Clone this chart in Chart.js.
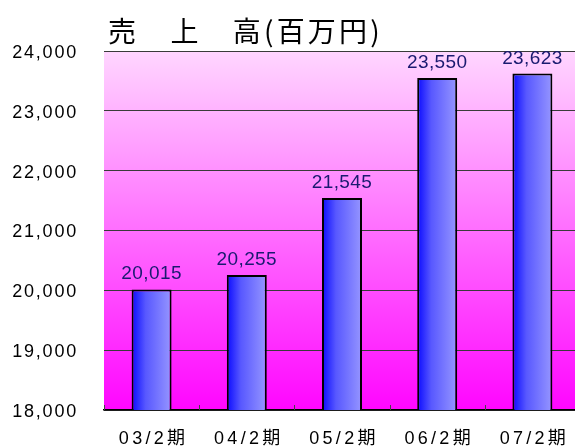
<!DOCTYPE html>
<html>
<head>
<meta charset="utf-8">
<script src="https://cdn.jsdelivr.net/npm/chart.js@4"></script>
<style>
  body { margin: 0; background: #fff; }
  #wrap { width: 575px; height: 448px; overflow: hidden; }
</style>
</head>
<body>
<div id="wrap"><canvas id="salesChart" width="582" height="448"></canvas></div>
<script>
const title = '売　上　高(百万円)';
const periods = ['03/2期', '04/2期', '05/2期', '06/2期', '07/2期'];
const sales = [20015, 20255, 21545, 23550, 23623];
const yMin = 18000;
const yMax = 24000;
const yStep = 1000;

const barPct = 0.42;
const latin = '"Liberation Sans", Arial, "Noto Sans CJK JP", sans-serif';

function fmt(v) {
    return v.toLocaleString('en-US');
}

// pink-to-magenta plot background
const plotBackground = {
    id: 'plotBackground',
    beforeDraw(chart) {
        const { ctx, chartArea: a } = chart;
        const g = ctx.createLinearGradient(0, a.top, 0, a.bottom);
        g.addColorStop(0, 'rgb(255, 214, 255)');
        g.addColorStop(1, 'rgb(255, 6, 255)');
        ctx.save();
        ctx.fillStyle = g;
        ctx.fillRect(a.left, a.top, a.right - a.left, a.bottom - a.top);
        ctx.restore();
    }
};

// labels, ticks and title drawn by hand so letter spacing can be set
const textLayer = {
    id: 'textLayer',
    afterDatasetsDraw(chart) {
        const { ctx } = chart;
        const meta = chart.getDatasetMeta(0);
        ctx.save();
        ctx.font = '19px ' + latin;
        ctx.fillStyle = '#1a1a70';
        ctx.textAlign = 'center';
        ctx.textBaseline = 'alphabetic';
        ctx.letterSpacing = '0.4px';
        meta.data.forEach((bar, i) => {
            ctx.fillText(fmt(sales[i]), bar.x, bar.y - 10);
        });
        ctx.restore();
    },
    afterDraw(chart) {
        const { ctx, chartArea: a } = chart;
        const xs = chart.scales.x;
        const ys = chart.scales.y;
        ctx.save();

        // small inward ticks on the category axis
        ctx.strokeStyle = '#444';
        ctx.lineWidth = 1;
        for (let i = 0; i <= periods.length; i++) {
            const x = Math.round(xs.getPixelForValue(i - 0.5)) + 0.5;
            ctx.beginPath();
            ctx.moveTo(x, a.bottom);
            ctx.lineTo(x, a.bottom - 5);
            ctx.stroke();
        }

        ctx.fillStyle = '#000';
        ctx.font = '18px ' + latin;
        ctx.letterSpacing = '1.8px';
        ctx.textAlign = 'right';
        ctx.textBaseline = 'middle';
        ys.ticks.forEach(t => {
            ctx.fillText(fmt(t.value), 78, ys.getPixelForValue(t.value) + 2);
        });

        ctx.letterSpacing = '3.3px';
        ctx.textAlign = 'center';
        periods.forEach((p, i) => {
            ctx.fillText(p, xs.getPixelForValue(i) + 2, 439);
        });

        ctx.font = '28px "Noto Sans CJK JP", sans-serif';
        ctx.letterSpacing = '3.2px';
        ctx.textAlign = 'left';
        ctx.textBaseline = 'alphabetic';
        ctx.fillText(title, 108, 42);
        ctx.restore();
    }
};

new Chart(document.getElementById('salesChart'), {
    type: 'bar',
    data: {
        labels: periods,
        datasets: [{
            data: sales,
            backgroundColor(c) {
                const xs = c.chart.scales.x;
                if (!xs || c.type !== 'data') return '#4a4aff';
                const cx = xs.getPixelForValue(c.dataIndex);
                const half = xs.width / periods.length * barPct / 2;
                if (!isFinite(cx) || !isFinite(half)) return '#4a4aff';
                const g = c.chart.ctx.createLinearGradient(cx - half, 0, cx + half, 0);
                g.addColorStop(0, '#0a0aff');
                g.addColorStop(0.35, '#5858ff');
                g.addColorStop(1, '#9696ff');
                return g;
            },
            borderColor: '#000',
            borderWidth: 2,
            barPercentage: barPct,
            categoryPercentage: 1
        }]
    },
    options: {
        responsive: false,
        animation: false,
        layout: { padding: { top: 51, right: 2, left: 0, bottom: 0 } },
        plugins: {
            legend: { display: false },
            tooltip: { enabled: false }
        },
        scales: {
            x: {
                ticks: { display: false },
                grid: { display: false },
                border: { color: '#000', width: 1.5 },
                afterFit(s) { s.height = 38; }
            },
            y: {
                min: yMin,
                max: yMax,
                ticks: { display: false, stepSize: yStep },
                grid: { color: '#3a3a3a', lineWidth: 1, drawTicks: false },
                border: { display: false },
                afterFit(s) { s.width = 104; }
            }
        }
    },
    plugins: [plotBackground, textLayer]
});
</script>
</body>
</html>
